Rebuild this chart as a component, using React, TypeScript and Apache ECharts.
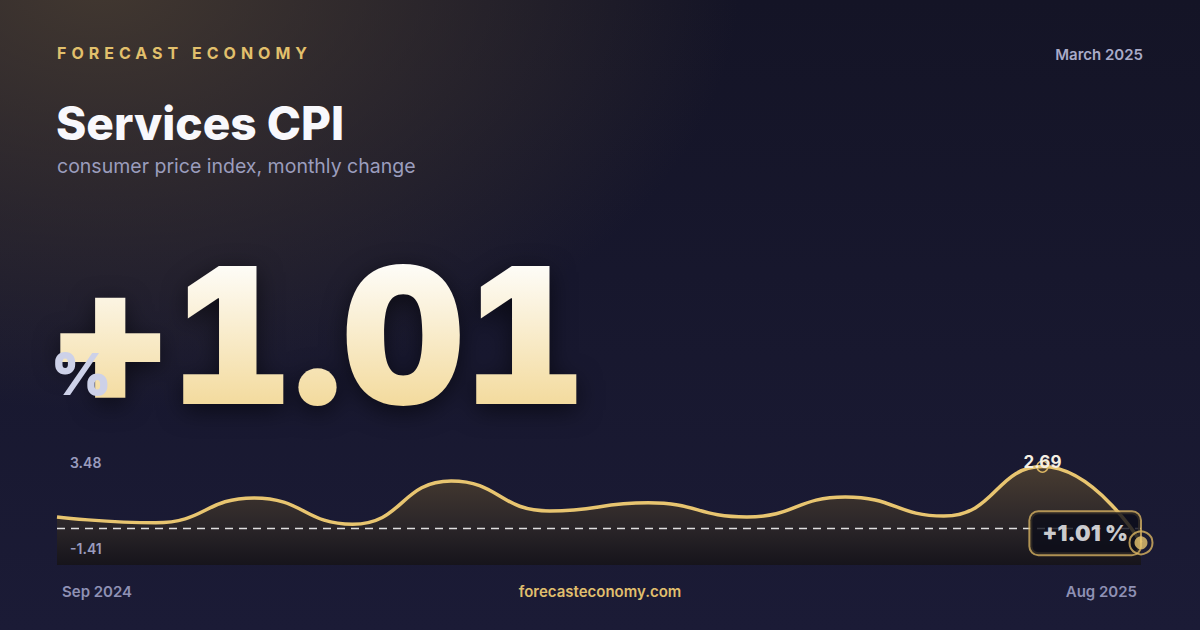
import React, { useEffect, useRef } from 'react';
import * as echarts from 'echarts';

// monthly change, Sep 2024 .. Aug 2025
const MONTHS = [
    'Sep 2024', 'Oct 2024', 'Nov 2024', 'Dec 2024', 'Jan 2025', 'Feb 2025',
    'Mar 2025', 'Apr 2025', 'May 2025', 'Jun 2025', 'Jul 2025', 'Aug 2025',
];
const CPI = [1.58, 1.45, 2.0, 1.42, 2.37, 1.71, 1.89, 1.58, 2.02, 1.6, 2.69, 1.01];
const BASELINE = 1.32;
const Y_MIN = 0.52;
const Y_MAX = 3.1;
const RANGE_LABELS = ['3.48', '-1.41'];

const GOLD = '#e8c570';
const MUTED = '#8f91b4';

const App: React.FC = () => {
    const chartRef = useRef<HTMLDivElement>(null);

    useEffect(() => {
        document.body.style.margin = '0';
        if (!chartRef.current) return;
        const chart = echarts.init(chartRef.current, null, { renderer: 'svg' });

        const last = CPI.length - 1;
        const peak = CPI.indexOf(Math.max(...CPI));
        const lastText = (CPI[last] >= 0 ? '+' : '') + CPI[last].toFixed(2) + ' %';

        const lineData = CPI.map((v, i) => {
            if (i !== peak) return v;
            return {
                value: v,
                symbol: 'circle',
                symbolSize: 11,
                itemStyle: { color: 'rgba(0,0,0,0)', borderColor: '#d9b462', borderWidth: 1.5 },
                label: {
                    show: true,
                    position: 'inside',
                    offset: [0, -5],
                    formatter: (p: any) => p.value.toFixed(2),
                    color: '#f4efe3',
                    fontFamily: 'Inter',
                    fontSize: 17,
                    fontWeight: 700,
                },
            };
        });

        const option = {
            animation: false,
            grid: { left: 57, right: 59, top: 448, bottom: 65, outerBoundsMode: 'none' },
            xAxis: {
                type: 'category',
                data: MONTHS,
                boundaryGap: false,
                axisLine: { show: false },
                axisTick: { show: false },
                splitLine: { show: false },
                axisLabel: {
                    interval: (i: number) => i === 0 || i === MONTHS.length - 1,
                    margin: 19,
                    color: MUTED,
                    fontFamily: 'Inter',
                    fontSize: 15,
                    fontWeight: 600,
                    alignMinLabel: 'left',
                    alignMaxLabel: 'right',
                    padding: [0, 4, 0, 5],
                },
            },
            yAxis: { type: 'value', min: Y_MIN, max: Y_MAX, show: false },
            graphic: [
                {
                    type: 'text', x: 70, y: 462, z: 10,
                    style: { text: RANGE_LABELS[0], fill: '#9a9cbe', fontFamily: 'Inter', fontSize: 14, fontWeight: 600, verticalAlign: 'middle' },
                },
                {
                    type: 'text', x: 70, y: 548, z: 10,
                    style: { text: RANGE_LABELS[1], fill: '#9a9cbe', fontFamily: 'Inter', fontSize: 14, fontWeight: 600, verticalAlign: 'middle' },
                },
            ],
            series: [
                {
                    type: 'line',
                    data: lineData,
                    smooth: true,
                    symbol: 'none',
                    z: 2,
                    lineStyle: { color: GOLD, width: 3.5 },
                    areaStyle: {
                        opacity: 1,
                        color: new echarts.graphic.LinearGradient(0, 0, 0, 1, [
                            { offset: 0, color: '#483c31' },
                            { offset: 0.6, color: '#2b2629' },
                            { offset: 1, color: '#16141b' },
                        ]),
                    },
                    markLine: {
                        z: 3,
                        silent: true,
                        symbol: 'none',
                        label: { show: false },
                        lineStyle: { type: [8, 6], color: 'rgba(255,255,255,0.85)', width: 1.3 },
                        data: [{ yAxis: BASELINE }],
                    },
                },
                {
                    // badge on the latest value
                    type: 'scatter',
                    z: 6,
                    data: [{
                        value: [last, CPI[last]],
                        symbolSize: 2,
                        itemStyle: { color: 'rgba(0,0,0,0)' },
                        label: {
                            show: true,
                            position: 'left',
                            distance: 0,
                            offset: [0, -9.5],
                            formatter: lastText,
                            color: '#ffffff',
                            fontFamily: 'Inter',
                            fontSize: 22,
                            fontWeight: 900,
                            lineHeight: 22,
                            backgroundColor: '#0b0c19',
                            borderColor: '#d4b060',
                            borderWidth: 2,
                            borderRadius: 8,
                            padding: [10, 12, 10, 12],
                        },
                    }],
                },
                {
                    // pulse marker
                    type: 'scatter',
                    z: 7,
                    silent: true,
                    data: [
                        {
                            value: [last, CPI[last]],
                            symbolSize: 23,
                            itemStyle: { color: 'rgba(0,0,0,0)', borderColor: '#d9b462', borderWidth: 2 },
                        },
                        {
                            value: [last, CPI[last]],
                            symbolSize: 13,
                            itemStyle: { color: GOLD },
                        },
                    ],
                },
            ],
        };

        chart.setOption(option as any);

        return () => {
            chart.dispose();
        };
    }, []);

    const abs: React.CSSProperties = { position: 'absolute', whiteSpace: 'nowrap' };

    return (
        <div
            style={{
                position: 'relative',
                width: 1200,
                height: 630,
                overflow: 'hidden',
                fontFamily: 'Inter, sans-serif',
                background:
                    'radial-gradient(ellipse 640px 430px at 100px -20px, rgba(74,62,50,0.85) 0%, rgba(74,62,50,0) 100%), linear-gradient(180deg, #141426 0%, #1b1b36 100%)',
            }}
        >
            <div ref={chartRef} style={{ position: 'absolute', left: 0, top: 0, width: 1200, height: 630 }} />

            <div style={{ ...abs, left: 57, top: 45, fontSize: 16, lineHeight: '16px', fontWeight: 700, letterSpacing: 5, color: '#e2c06c' }}>
                FORECAST ECONOMY
            </div>
            <div style={{ ...abs, right: 57, top: 47, fontSize: 15, lineHeight: '15px', fontWeight: 600, color: '#a9abc8' }}>
                March 2025
            </div>
            <div style={{ ...abs, left: 56, top: 100, fontSize: 46, lineHeight: '46px', fontWeight: 800, color: '#f8f8fc' }}>
                Services CPI
            </div>
            <div style={{ ...abs, left: 57, top: 157, fontSize: 19.5, lineHeight: '19px', fontWeight: 400, color: '#9b9dbd' }}>
                consumer price index, monthly change
            </div>

            <div
                style={{
                    ...abs,
                    left: 49,
                    top: 240,
                    fontSize: 190,
                    lineHeight: '190px',
                    fontWeight: 900,
                    letterSpacing: -1,
                    fontFeatureSettings: '"tnum"',
                    color: 'transparent',
                    background: 'linear-gradient(180deg, #fefdf9 12%, #f3da9c 88%)',
                    WebkitBackgroundClip: 'text',
                    backgroundClip: 'text',
                    filter: 'drop-shadow(0 6px 12px rgba(0,0,0,0.55))',
                }}
            >
                +1.01
            </div>
            <div style={{ ...abs, left: 51, top: 345, fontSize: 58, lineHeight: '58px', fontWeight: 900, color: '#cdd1e8' }}>
                %
            </div>

            <div style={{ ...abs, left: 0, width: 1200, textAlign: 'center', top: 584, fontSize: 15, lineHeight: '15px', fontWeight: 600, color: '#e0bf6d' }}>
                forecasteconomy.com
            </div>
        </div>
    );
};

export default App;
